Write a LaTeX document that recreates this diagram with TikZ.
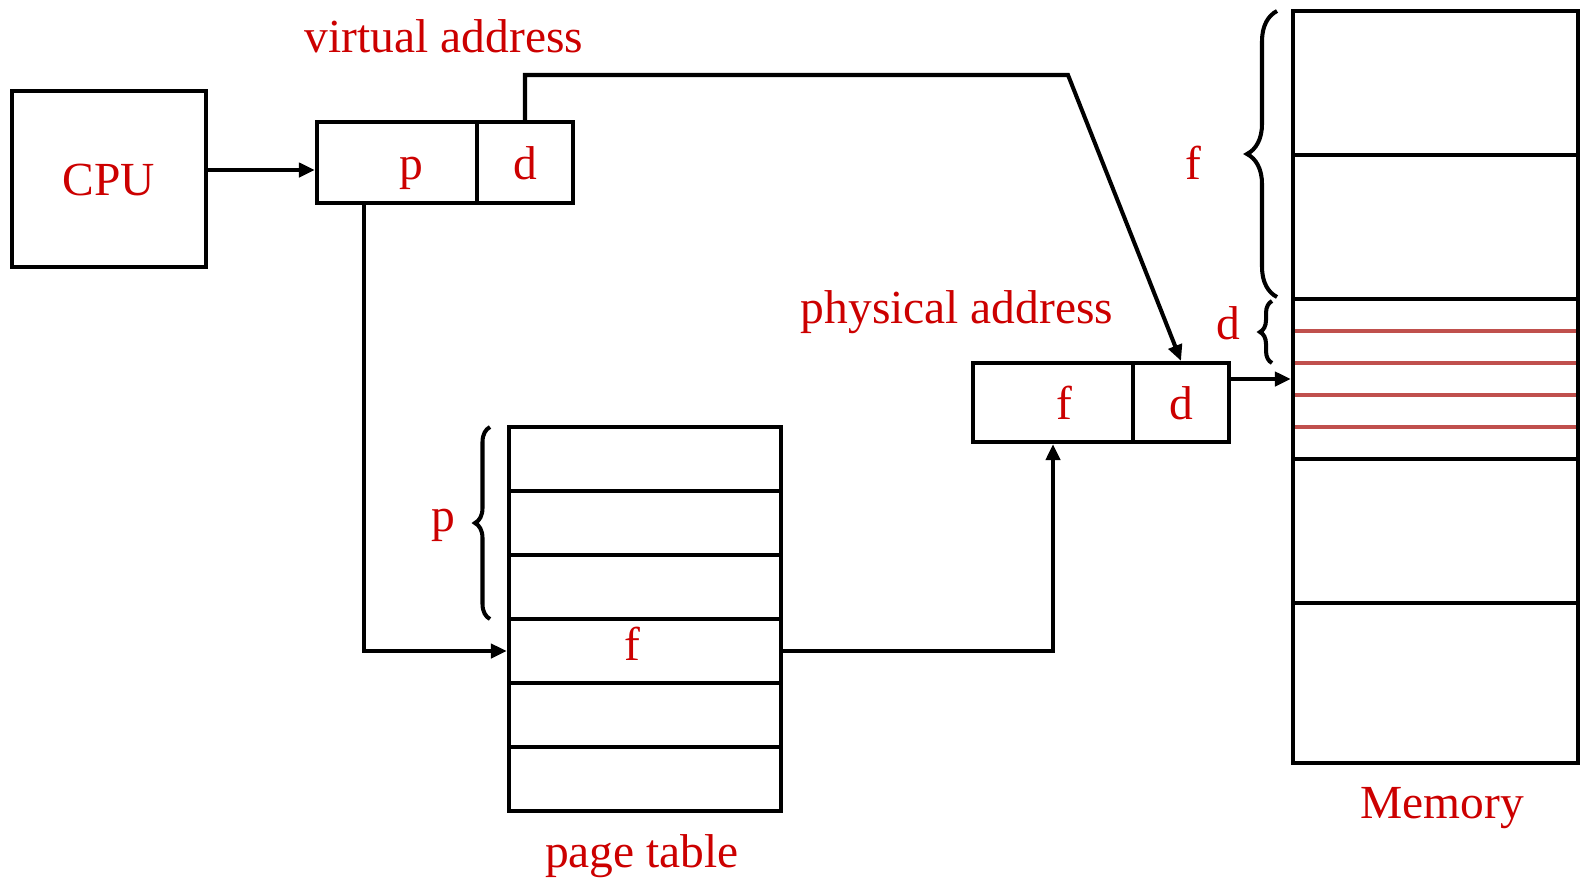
\documentclass[tikz,border=0pt]{standalone}
\usepackage{fontspec}
\setmainfont{Liberation Serif}
\usetikzlibrary{arrows.meta,calc,decorations.pathreplacing}
\definecolor{txtred}{HTML}{CC0000}
\definecolor{rowred}{HTML}{C0504D}
\begin{document}
\begin{tikzpicture}[x=0.01cm, y=-0.01cm, line width=1.15pt,
  every node/.style={font=\fontsize{13.5}{16}\selectfont, text=txtred},
  cell/.style={draw, rectangle, inner sep=0pt, text height=0.4cm, text depth=0.07cm},
  arr/.style={-{Triangle[length=0.16cm,width=0.14cm]}},
  brc/.style={decorate, decoration={brace, amplitude=#1}}]
\useasboundingbox (0,0) rectangle (1580,878);
% cpu and virtual address
\node[cell, minimum width=1.93cm, minimum height=1.76cm] (cpu) at (109,179) {CPU};
\node[cell, minimum width=1.6cm, minimum height=0.81cm] (vp) at (397,162.5) {\hspace{0.28cm}p};
\node[cell, minimum width=0.96cm, minimum height=0.81cm] (vd) at (525,162.5) {d};
\node (va) at (444,36) {virtual address};
% page table
\foreach \i/\y in {1/459,2/523,3/587,4/651,5/715,6/779}
  \node[cell, minimum width=2.72cm, minimum height=0.64cm] (pt\i) at (645,\y) {};
\node (ptf) at (632,644) {f};
\node (ptl) at (642,856) {page table};
\draw[brc=0.15cm] (490,619) -- (490,427);
\node (pl) at (443,525) {p};
% physical address
\node[cell, minimum width=1.6cm, minimum height=0.79cm] (pf) at (1053,402.5) {\hspace{0.22cm}f};
\node[cell, minimum width=0.96cm, minimum height=0.79cm] (pd) at (1181,402.5) {d};
\node (pa) at (957,312) {physical address};
% memory
\foreach \k in {0.2,0.4,0.6,0.8}
  \draw[rowred, line width=1pt] ($(1293,299)!\k!(1293,459)$) -- ($(1578,299)!\k!(1578,459)$);
\node[cell, minimum width=2.85cm, minimum height=1.44cm] (m1) at (1435.5,83) {};
\node[cell, minimum width=2.85cm, minimum height=1.44cm] (m2) at (1435.5,227) {};
\node[cell, minimum width=2.85cm, minimum height=1.6cm] (m3) at (1435.5,379) {};
\node[cell, minimum width=2.85cm, minimum height=1.44cm] (m4) at (1435.5,531) {};
\node[cell, minimum width=2.85cm, minimum height=1.6cm] (m5) at (1435.5,683) {};
\node (mem) at (1442,808) {Memory};
\draw[brc=0.3cm] (1277,297) -- (1277,11);
\draw[brc=0.12cm] (1272,363) -- (1272,301);
\node (fl) at (1193,163) {f};
\node (dl) at (1228,323) {d};
% connectors
\coordinate (cpuout) at ([yshift=0.09cm]cpu.east);
\draw[arr] (cpuout) -- (cpuout -| vp.west);
\coordinate (vbend) at (1068,75);
\draw[arr] (vd.north) |- (vbend) -- (pd.north);
\coordinate (pout) at ([xshift=-0.33cm]vp.south);
\draw[arr] (pout) |- (pt4.west);
\draw[arr] (pt4.east) -| (pf.south);
\draw[arr] (pd.east |- m3.west) -- (m3.west);
\end{tikzpicture}
\end{document}
